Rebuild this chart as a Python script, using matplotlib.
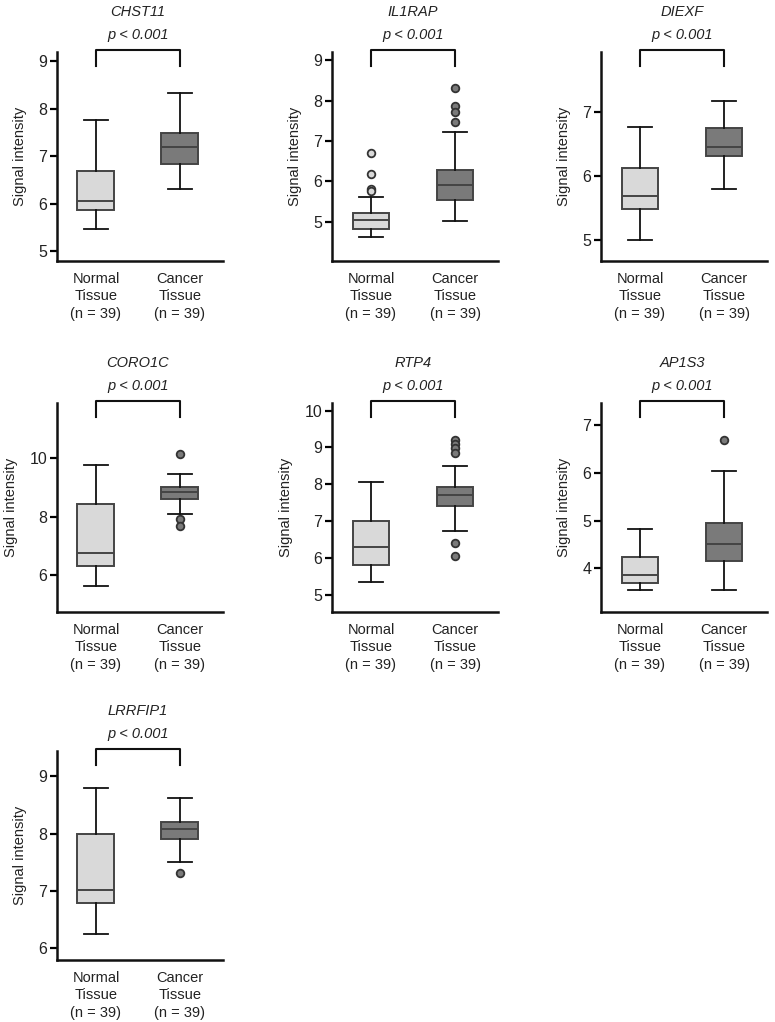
import matplotlib
matplotlib.use("Agg")
import matplotlib.pyplot as plt
from matplotlib.transforms import blended_transform_factory

plt.rcParams['font.family'] = ['Liberation Sans', 'DejaVu Sans']

genes = ["CHST11", "IL1RAP", "DIEXF", "CORO1C", "RTP4", "AP1S3", "LRRFIP1"]
groups = ["Normal\nTissue\n(n = 39)", "Cancer\nTissue\n(n = 39)"]
p_text = "p < 0.001"

# whisker low, Q1, median, Q3, whisker high
normal_boxes = [
    [5.47, 5.86, 6.05, 6.68, 7.76],
    [4.63, 4.83, 5.05, 5.21, 5.62],
    [5.00, 5.48, 5.68, 6.13, 6.77],
    [5.64, 6.32, 6.77, 8.42, 9.77],
    [5.35, 5.82, 6.29, 6.99, 8.05],
    [3.55, 3.70, 3.87, 4.23, 4.82],
    [6.26, 6.80, 7.02, 7.99, 8.79],
]
cancer_boxes = [
    [6.31, 6.83, 7.19, 7.49, 8.33],
    [5.02, 5.55, 5.92, 6.28, 7.23],
    [5.80, 6.31, 6.46, 6.75, 7.17],
    [8.09, 8.59, 8.85, 9.02, 9.44],
    [6.72, 7.40, 7.70, 7.92, 8.51],
    [3.55, 4.16, 4.51, 4.94, 6.04],
    [7.51, 7.91, 8.08, 8.21, 8.62],
]
normal_fliers = [[], [6.69, 6.18, 5.80, 5.76], [], [], [], [], []]
cancer_fliers = [
    [],
    [8.32, 7.86, 7.72, 7.47],
    [],
    [10.15, 7.92, 7.67],
    [9.21, 9.10, 8.99, 8.86, 6.40, 6.06],
    [6.69],
    [7.31],
]
yticks = [
    [5, 6, 7, 8, 9],
    [5, 6, 7, 8, 9],
    [5, 6, 7],
    [6, 8, 10],
    [5, 6, 7, 8, 9, 10],
    [4, 5, 6, 7],
    [6, 7, 8, 9],
]
ylims = [(4.79, 9.19), (4.03, 9.2), (4.67, 7.94), (4.75, 11.875),
         (4.53, 10.21), (3.09, 7.46), (5.80, 9.44)]

fills = ["#d9d9d9", "#7a7a7a"]
edge = "#444444"

fig = plt.figure(figsize=(7.75, 10.22), dpi=100)
lefts = [0.0735, 0.4284, 0.7755]
bottoms = [0.7446, 0.4012, 0.0607]
w, h = 0.2142, 0.2045

for i, gene in enumerate(genes):
    r, c = divmod(i, 3)
    ax = fig.add_axes([lefts[c], bottoms[r], w, h])
    stats = []
    for b, fl in ((normal_boxes[i], normal_fliers[i]), (cancer_boxes[i], cancer_fliers[i])):
        stats.append(dict(whislo=b[0], q1=b[1], med=b[2], q3=b[3], whishi=b[4], fliers=fl))
    res = ax.bxp(stats, positions=[1, 2], widths=0.44, capwidths=0.28,
                 patch_artist=True, showfliers=True,
                 boxprops=dict(edgecolor=edge, linewidth=1.4),
                 medianprops=dict(color=edge, linewidth=1.4),
                 whiskerprops=dict(color="#111111", linewidth=1.3),
                 capprops=dict(color="#111111", linewidth=1.3))
    for patch, col in zip(res["boxes"], fills):
        patch.set_facecolor(col)
    for fl, col in zip(res["fliers"], fills):
        fl.set(marker="o", markersize=5.5, markerfacecolor=col,
               markeredgecolor="#333333", markeredgewidth=1.3)

    ax.set_xlim(0.536, 2.512)
    ax.set_ylim(*ylims[i])
    ax.set_yticks(yticks[i])
    ax.set_xticks([1, 2])
    ax.set_xticklabels(groups, fontsize=10.5, color="#222222", linespacing=1.3)
    ax.tick_params(axis="x", length=0, pad=8)
    ax.tick_params(axis="y", length=5, width=1.6, pad=2, labelsize=11.5,
                   labelcolor="#222222")
    for s in ("top", "right"):
        ax.spines[s].set_visible(False)
    for s in ("left", "bottom"):
        ax.spines[s].set_linewidth(1.8)
        ax.spines[s].set_color("#111111")
    ax.set_ylabel("Signal intensity", fontsize=10.5, labelpad=8, color="#222222")

    tr = blended_transform_factory(ax.transData, ax.transAxes)
    ax.plot([1, 1, 2, 2], [0.933, 1.01, 1.01, 0.933], color="#111111",
            linewidth=1.5, transform=tr, clip_on=False)
    ax.text(1.5, 1.08, p_text, transform=tr, ha="center", va="center",
            fontsize=10.5, style="italic", color="#222222")
    ax.text(1.5, 1.19, gene, transform=tr, ha="center", va="center",
            fontsize=10.5, style="italic", color="#222222")

fig.savefig("out.png", dpi=100)
